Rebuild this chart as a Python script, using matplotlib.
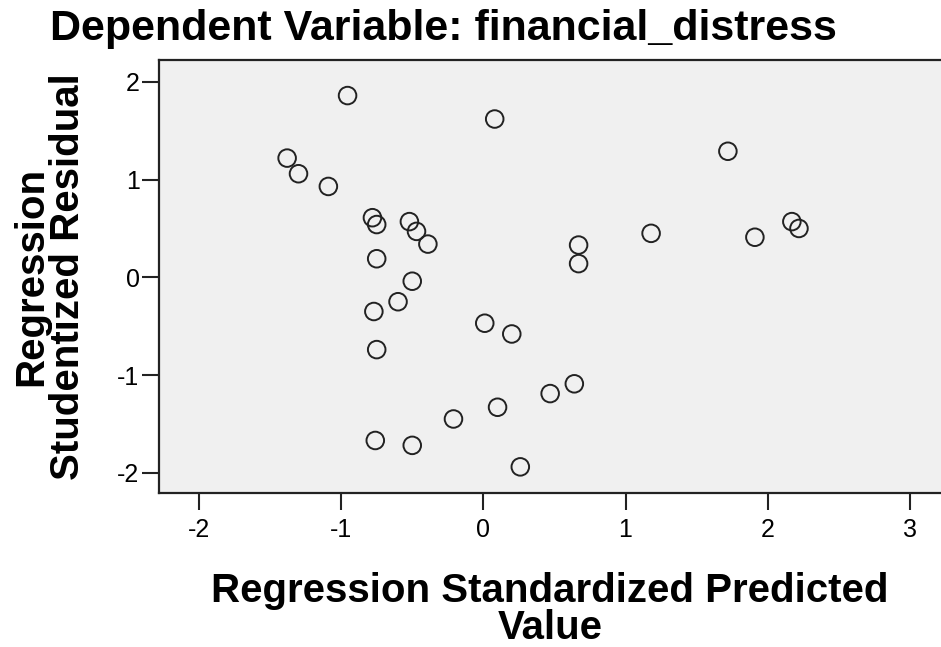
import matplotlib
matplotlib.use('Agg')
import matplotlib.pyplot as plt

plt.rcParams['font.family'] = ['Liberation Sans', 'DejaVu Sans']
plt.rcParams['axes.unicode_minus'] = False

# standardized predicted value vs studentized residual
pred = [-0.955, 0.08, -1.38, -1.30, -1.09, -0.78, -0.75, -0.52, -0.47, -0.39,
        -0.75, -0.50, -0.60, -0.77, -0.75, -0.76, -0.50, -0.21, 0.01, 0.20,
        0.10, 0.47, 0.64, 0.26, 0.67, 0.67, 1.18, 1.72, 1.91, 2.17, 2.22]
resid = [1.86, 1.62, 1.22, 1.06, 0.93, 0.61, 0.54, 0.57, 0.47, 0.34,
         0.19, -0.04, -0.25, -0.35, -0.74, -1.67, -1.72, -1.45, -0.47, -0.58,
         -1.33, -1.19, -1.09, -1.94, 0.33, 0.14, 0.45, 1.29, 0.41, 0.57, 0.50]
x_ticks = [-2, -1, 0, 1, 2, 3]
y_ticks = [-2, -1, 0, 1, 2]

fig = plt.figure(figsize=(9.41, 6.47), dpi=100)
ax = fig.add_axes([0.169, 0.2375, 0.831, 0.669])
ax.set_facecolor('#f0f0f0')

ax.scatter(pred, resid, s=160, facecolors='none', edgecolors='#222222',
           linewidths=1.4, zorder=3)

ax.set_xlim(-2.281, 3.219)
ax.set_ylim(-2.211, 2.219)
ax.set_xticks(x_ticks)
ax.set_yticks(y_ticks)
ax.tick_params(axis='both', length=12, width=1.5, color='#222222',
               labelsize=18)
ax.tick_params(axis='x', pad=6)
ax.tick_params(axis='y', pad=2)

for side in ['left', 'bottom', 'top']:
    ax.spines[side].set_linewidth(1.6)
    ax.spines[side].set_color('#222222')
ax.spines['right'].set_visible(False)

ax.set_xlabel('Regression Standardized Predicted\nValue', fontsize=29,
              fontweight='bold', labelpad=21, linespacing=0.98)
ax.set_ylabel('Regression\nStudentized Residual', fontsize=29,
              fontweight='bold', labelpad=22, linespacing=0.95)
fig.text(0.053, 0.938, 'Dependent Variable: financial_distress', fontsize=31,
         fontweight='bold', ha='left', va='baseline')

fig.savefig('out.png', dpi=100)
